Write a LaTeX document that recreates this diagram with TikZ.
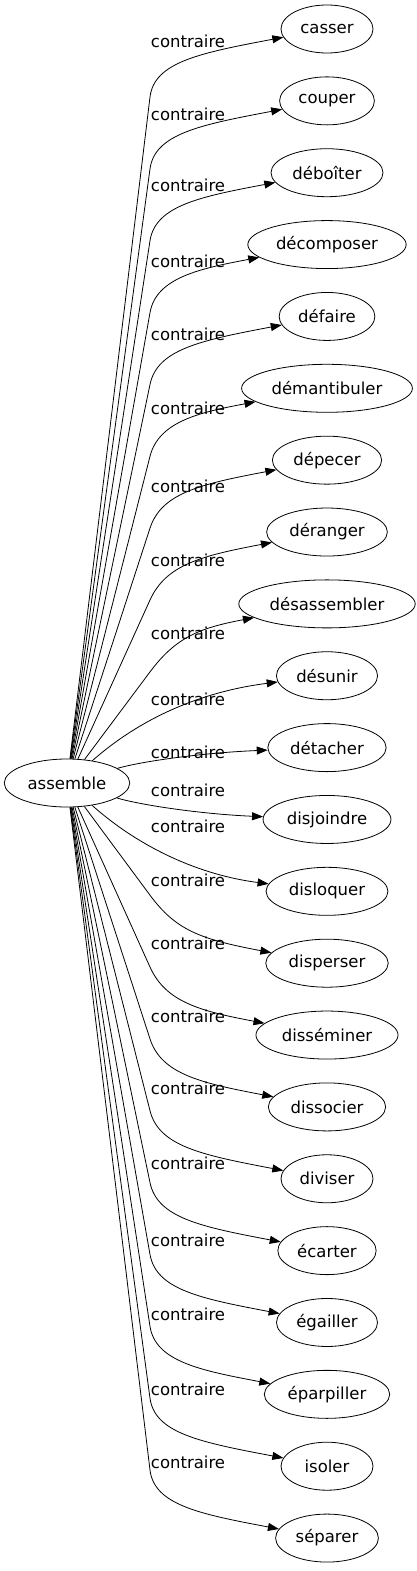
\documentclass[tikz,border=0pt]{standalone}
\usepackage{fontspec}
\setmainfont{DejaVu Sans}
\usetikzlibrary{shapes.geometric, arrows.meta, positioning, calc}
\tikzset{
  word/.style={ellipse, draw, line width=0.8pt, inner xsep=5pt, inner ysep=0pt,
    minimum width=92pt, minimum height=48pt, font=\fontsize{16.5}{19}\selectfont},
  rel/.style={-{Triangle[length=11pt,width=8pt]}, line width=0.8pt},
  rellabel/.style={font=\fontsize{16.5}{19}\selectfont, inner sep=0pt}
}

\begin{document}
\begin{tikzpicture}[x=1pt, y=-1pt]
  \useasboundingbox (0,0) rectangle (417,1571);
  \node[word] (src) at (67,783) {assemble};
  % targets, one row each
  \foreach \w/\ly [count=\i from 0] in {casser/41, couper/114, déboîter/185,
      décomposer/261, défaire/334, démantibuler/408, dépecer/486, déranger/560,
      désassembler/633, désunir/699, détacher/752, disjoindre/790, disloquer/826,
      disperser/880, disséminer/943, dissocier/1016, diviser/1088, écarter/1163,
      égailler/1240, éparpiller/1314, isoler/1389, séparer/1462} {
    \pgfmathsetmacro{\ty}{29+\i*71.86}
    \pgfmathsetmacro{\dy}{783-\ty}
    \pgfmathsetmacro{\s}{ifthenelse(\dy>0,1,-1)}
    \pgfmathtruncatemacro{\far}{abs(\dy)>150}
    \node[word] (t\i) at (327,\ty) {\w};
    \node[rellabel] (l\i) at (188,\ly) {contraire};
    \ifnum\far=1
      \pgfmathsetmacro{\ky}{\ty+68*\s}
      \pgfmathsetmacro{\cx}{150+35*83/(abs(\dy)-68)}
      \pgfmathsetmacro{\cy}{\ky-35*\s}
      \pgfmathsetmacro{\dx}{\ty+24*\s}
      \coordinate (k\i) at (150,\ky);
      \draw[rel] (src) -- (k\i) .. controls (\cx,\cy) and (200,\dx) .. (t\i);
    \else
      \pgfmathsetmacro{\ay}{783-0.6*\dy}
      \pgfmathsetmacro{\by}{\ty+0.15*\dy}
      \draw[rel] (src) .. controls (140,\ay) and (200,\by) .. (t\i);
    \fi
  }
\end{tikzpicture}
\end{document}
